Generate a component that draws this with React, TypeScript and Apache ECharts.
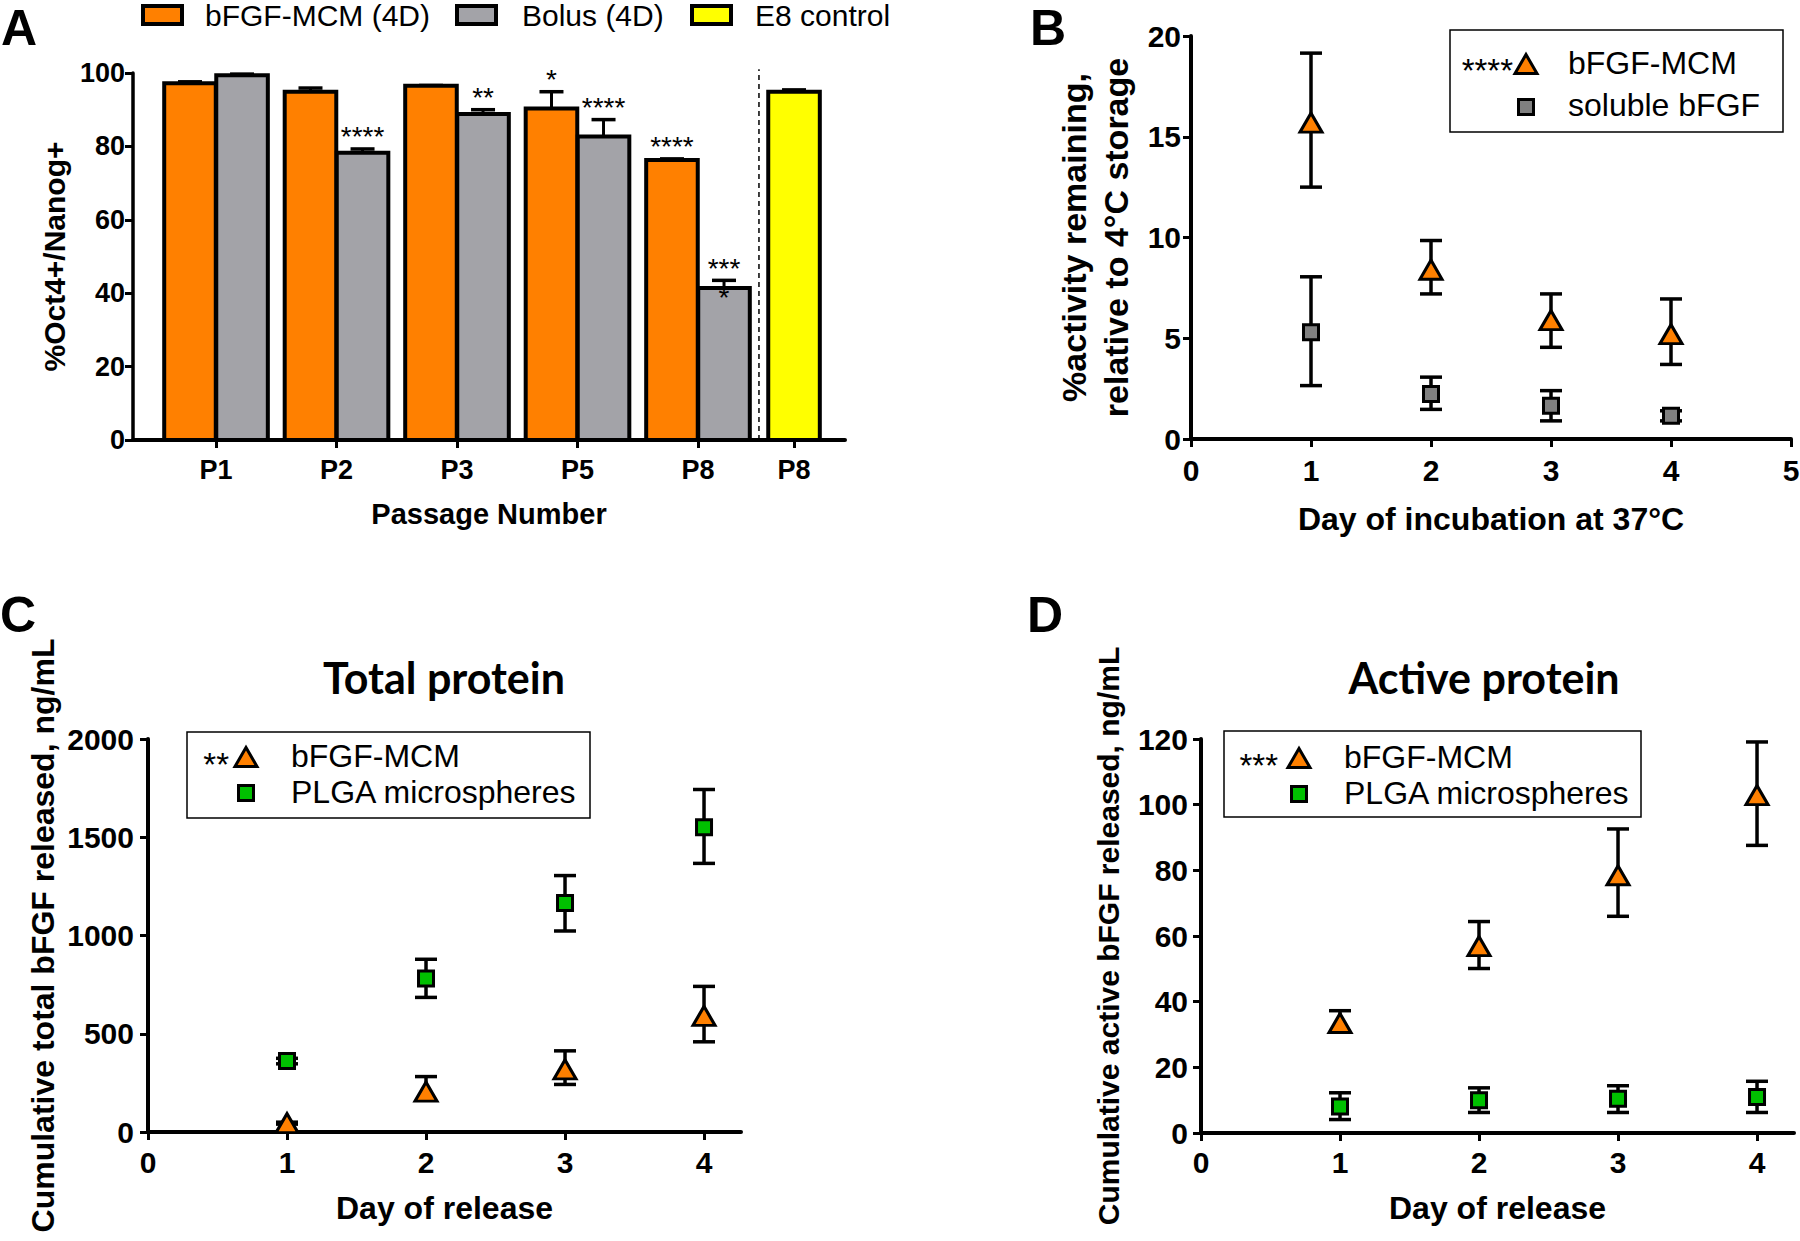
import React, { useEffect, useRef } from 'react';
import * as echarts from 'echarts';

// ---------------- DATA ----------------
// Panel A: % Oct4+/Nanog+ by passage
const passages = ['P1', 'P2', 'P3', 'P5', 'P8'];
const e8Label = 'P8';
const mcmBar = [97.2, 94.9, 96.5, 90.3, 76.3];
const mcmBarErr = [97.6, 95.9, 96.6, 94.9, 76.6];
const bolusBar = [99.4, 78.3, 88.8, 82.7, 41.4];
const bolusBarErr = [99.7, 79.3, 90.0, 87.3, 43.5];
const e8Bar = [94.9];
const e8BarErr = [95.4];
const mcmSig = ['', '', '', '*', '****'];
const bolusSig = ['', '****', '**', '****', '***'];
const bolusSigBelow = ['', '', '', '', '*'];

// Panel B: % activity remaining
const daysB = [1, 2, 3, 4];
const mcmActB = [15.7, 8.4, 5.9, 5.2];
const mcmActBHi = [19.15, 9.85, 7.2, 6.95];
const mcmActBLo = [12.5, 7.2, 4.55, 3.7];
const solActB = [5.3, 2.23, 1.65, 1.15];
const solActBHi = [8.05, 3.07, 2.4, 1.4];
const solActBLo = [2.65, 1.47, 0.9, 0.9];

// Panel C: cumulative total bFGF released
const daysC = [1, 2, 3, 4];
const mcmTotC = [45, 205, 319, 591];
const mcmTotCHi = [50, 282, 413, 741];
const mcmTotCLo = [40, 163, 242, 459];
const plgaTotC = [361, 781, 1165, 1551];
const plgaTotCHi = [375, 879, 1305, 1743];
const plgaTotCLo = [347, 685, 1023, 1367];

// Panel D: cumulative active bFGF released
const daysD = [1, 2, 3, 4];
const mcmActD = [33.5, 56.9, 78.5, 102.9];
const mcmActDHi = [37.25, 64.4, 92.6, 119.1];
const mcmActDLo = [31, 50.1, 66, 87.6];
const plgaActD = [8.1, 10, 10.4, 11];
const plgaActDHi = [12.25, 13.75, 14.4, 15.75];
const plgaActDLo = [4.1, 6.25, 6.25, 6.25];

const dayTicks = [0, 1, 2, 3, 4];

// ---------------- LAYOUT / STYLE ----------------
const groupX = [1, 2, 3, 4, 5];
const e8X = 5.797;
const dividerX = 5.506;
const BAR_HALF = 0.214;
const BAR_OFF = 0.216;

const FONT = '"Liberation Sans", Arial, Helvetica, sans-serif';
const TITLE_FONT = 'Lato, "Open Sans", "Liberation Sans", sans-serif';
const BLACK = '#000';
const ORANGE = '#FF8000';
const GRAY_BAR = '#A3A3A8';
const YELLOW = '#FFFF00';
const GREEN = '#00C000';
const GRAY_MK = '#808080';

function axisBase(gridIndex: number, labelSize: number, labelMargin: number, nameSize: number, nameGap: number, name: string, lineHeight?: number) {
  const nts: any = { color: BLACK, fontFamily: FONT, fontWeight: 'bold', fontSize: nameSize };
  if (lineHeight) nts.lineHeight = lineHeight;
  return {
    gridIndex,
    name,
    nameLocation: 'middle',
    nameGap,
    nameMoveOverlap: false,
    nameTextStyle: nts,
    axisLine: { show: true, onZero: false, lineStyle: { color: BLACK, width: 4 } },
    axisTick: { show: true, length: 8, lineStyle: { color: BLACK, width: 3 } },
    splitLine: { show: false },
    axisLabel: { color: BLACK, fontFamily: FONT, fontWeight: 'bold', fontSize: labelSize, margin: labelMargin, formatter: (v: number) => String(v) },
  };
}

const barRender = (offset: number, color: string, sig?: string[], sigBelow?: string[]) => (params: any, api: any) => {
  const i = params.dataIndex;
  const cx = api.value(0) + offset;
  const v = api.value(1);
  const e = api.value(2);
  const tl = api.coord([cx - BAR_HALF, v]);
  const br = api.coord([cx + BAR_HALF, 0]);
  const top = api.coord([cx, e]);
  const children: any[] = [
    { type: 'line', shape: { x1: top[0], y1: tl[1], x2: top[0], y2: top[1] }, style: { stroke: BLACK, lineWidth: 3 } },
    { type: 'line', shape: { x1: top[0] - 12, y1: top[1], x2: top[0] + 12, y2: top[1] }, style: { stroke: BLACK, lineWidth: 3.5 } },
    { type: 'rect', shape: { x: tl[0], y: tl[1], width: br[0] - tl[0], height: br[1] - tl[1] }, style: { fill: color, stroke: BLACK, lineWidth: 4 } },
  ];
  if (sig && sig[i]) {
    children.push({ type: 'text', x: top[0], y: top[1] - 12, style: { text: sig[i], fontFamily: FONT, fontSize: 28, fill: BLACK, align: 'center', verticalAlign: 'middle' } });
  }
  if (sigBelow && sigBelow[i]) {
    children.push({ type: 'text', x: top[0], y: tl[1] + 9, style: { text: sigBelow[i], fontFamily: FONT, fontSize: 28, fill: BLACK, align: 'center', verticalAlign: 'middle' } });
  }
  return { type: 'group', children };
};

const errRender = (params: any, api: any) => {
  const x = api.value(0);
  const lo = api.coord([x, api.value(1)]);
  const hi = api.coord([x, api.value(2)]);
  const c = 11;
  const st = { stroke: BLACK, lineWidth: 3.5 };
  return {
    type: 'group',
    children: [
      { type: 'line', shape: { x1: lo[0], y1: lo[1], x2: hi[0], y2: hi[1] }, style: st },
      { type: 'line', shape: { x1: hi[0] - c, y1: hi[1], x2: hi[0] + c, y2: hi[1] }, style: st },
      { type: 'line', shape: { x1: lo[0] - c, y1: lo[1], x2: lo[0] + c, y2: lo[1] }, style: st },
    ],
  };
};

function errSeries(name: string, axisIdx: number, xs: number[], lo: number[], hi: number[]) {
  return {
    type: 'custom',
    name,
    xAxisIndex: axisIdx,
    yAxisIndex: axisIdx,
    data: xs.map((x, i) => [x, lo[i], hi[i]]),
    encode: { x: 0, y: [1, 2] },
    renderItem: errRender,
    clip: false,
    z: 2,
    silent: true,
  };
}

function markerSeries(name: string, axisIdx: number, xs: number[], ys: number[], kind: 'tri' | 'sq', color: string) {
  return {
    type: 'scatter',
    name,
    xAxisIndex: axisIdx,
    yAxisIndex: axisIdx,
    data: xs.map((x, i) => [x, ys[i]]),
    symbol: kind === 'tri' ? 'triangle' : 'rect',
    symbolSize: kind === 'tri' ? [22, 19] : 15,
    itemStyle: { color, borderColor: BLACK, borderWidth: 3, opacity: 1 },
    clip: false,
    z: 3,
    silent: true,
  };
}

function txt(text: string, x: number, y: number, size: number, opts: any = {}) {
  return {
    type: 'text',
    x,
    y,
    style: {
      text,
      fontFamily: opts.family || FONT,
      fontSize: size,
      fontWeight: opts.weight || 'normal',
      fill: BLACK,
      align: opts.align || 'left',
      verticalAlign: 'middle',
    },
  };
}

function tri(cx: number, cy: number, color: string) {
  return {
    type: 'polygon',
    shape: { points: [[cx, cy - 9.5], [cx + 11, cy + 9.5], [cx - 11, cy + 9.5]] },
    style: { fill: color, stroke: BLACK, lineWidth: 3, lineJoin: 'miter' },
  };
}

function sq(cx: number, cy: number, color: string) {
  return {
    type: 'rect',
    shape: { x: cx - 7.5, y: cy - 7.5, width: 15, height: 15 },
    style: { fill: color, stroke: BLACK, lineWidth: 3 },
  };
}

function frame(x: number, y: number, w: number, h: number) {
  return { type: 'rect', shape: { x, y, width: w, height: h }, style: { fill: 'none', stroke: BLACK, lineWidth: 1.5 } };
}

function swatch(x: number, y: number, color: string) {
  return { type: 'rect', shape: { x, y, width: 39, height: 18 }, style: { fill: color, stroke: BLACK, lineWidth: 4 } };
}

function buildOption(): any {
  const labelOfA = (v: number) => {
    if (Math.abs(v - e8X) < 0.01) return e8Label;
    const idx = groupX.findIndex((g) => Math.abs(g - v) < 0.01);
    return idx >= 0 ? passages[idx] : '';
  };

  const xA: any = axisBase(0, 27, 16, 29, 59, 'Passage Number');
  Object.assign(xA, { type: 'value', min: 0.311, max: 6.22 });
  xA.axisTick = { ...xA.axisTick, customValues: [...groupX, e8X] };
  xA.axisLabel = { ...xA.axisLabel, customValues: [...groupX, e8X], formatter: labelOfA };
  const yA: any = axisBase(0, 27, 8, 30, 64, '%Oct4+/Nanog+');
  Object.assign(yA, { type: 'value', min: 0, max: 100, interval: 20 });
  yA.axisLine.lineStyle.width = 3.5;

  const xB: any = axisBase(1, 30, 16, 32, 64, 'Day of incubation at 37°C');
  Object.assign(xB, { type: 'value', min: 0, max: 5, interval: 1 });
  const yB: any = axisBase(1, 30, 10, 34, 54, '%activity remaining,\nrelative to 4°C storage', 42);
  Object.assign(yB, { type: 'value', min: 0, max: 20, interval: 5 });

  const xC: any = axisBase(2, 30, 15, 32, 60, 'Day of release');
  Object.assign(xC, { type: 'value', min: 0, max: 4.266 });
  xC.axisTick = { ...xC.axisTick, customValues: dayTicks };
  xC.axisLabel = { ...xC.axisLabel, customValues: dayTicks };
  const yC: any = axisBase(2, 30, 14, 32, 89, 'Cumulative total bFGF released, ng/mL');
  Object.assign(yC, { type: 'value', min: 0, max: 2000, interval: 500 });

  const xD: any = axisBase(3, 30, 14, 32, 59, 'Day of release');
  Object.assign(xD, { type: 'value', min: 0, max: 4.266 });
  xD.axisTick = { ...xD.axisTick, customValues: dayTicks };
  xD.axisLabel = { ...xD.axisLabel, customValues: dayTicks };
  const yD: any = axisBase(3, 30, 13, 30, 78, 'Cumulative active bFGF released, ng/mL');
  Object.assign(yD, { type: 'value', min: 0, max: 120, interval: 20 });

  const grids = [
    { left: 133, top: 73, width: 712, height: 367 },
    { left: 1191, top: 36, width: 600, height: 403 },
    { left: 148, top: 739, width: 593, height: 393 },
    { left: 1201, top: 739, width: 593, height: 394 },
  ].map((g) => ({ ...g, outerBoundsMode: 'none', containLabel: false, show: false }));

  const series: any[] = [
    {
      type: 'custom', name: 'bFGF-MCM (4D)', xAxisIndex: 0, yAxisIndex: 0,
      data: groupX.map((x, i) => [x, mcmBar[i], mcmBarErr[i]]),
      encode: { x: 0, y: 1 }, renderItem: barRender(-BAR_OFF, ORANGE, mcmSig), clip: false, silent: true,
    },
    {
      type: 'custom', name: 'Bolus (4D)', xAxisIndex: 0, yAxisIndex: 0,
      data: groupX.map((x, i) => [x, bolusBar[i], bolusBarErr[i]]),
      encode: { x: 0, y: 1 }, renderItem: barRender(BAR_OFF, GRAY_BAR, bolusSig, bolusSigBelow), clip: false, silent: true,
    },
    {
      type: 'custom', name: 'E8 control', xAxisIndex: 0, yAxisIndex: 0,
      data: e8Bar.map((v, i) => [e8X, v, e8BarErr[i]]),
      encode: { x: 0, y: 1 }, renderItem: barRender(0, YELLOW), clip: false, silent: true,
    },
    {
      type: 'line', name: 'divider', xAxisIndex: 0, yAxisIndex: 0,
      data: [[dividerX, 0], [dividerX, 101]], symbol: 'none', clip: false, silent: true,
      lineStyle: { color: BLACK, width: 1.5, type: [5, 4] },
    },
    errSeries('bFGF-MCM err B', 1, daysB, mcmActBLo, mcmActBHi),
    errSeries('soluble bFGF err B', 1, daysB, solActBLo, solActBHi),
    markerSeries('soluble bFGF', 1, daysB, solActB, 'sq', GRAY_MK),
    markerSeries('bFGF-MCM B', 1, daysB, mcmActB, 'tri', ORANGE),

    errSeries('bFGF-MCM err C', 2, daysC, mcmTotCLo, mcmTotCHi),
    errSeries('PLGA err C', 2, daysC, plgaTotCLo, plgaTotCHi),
    markerSeries('PLGA microspheres C', 2, daysC, plgaTotC, 'sq', GREEN),
    markerSeries('bFGF-MCM C', 2, daysC, mcmTotC, 'tri', ORANGE),

    errSeries('bFGF-MCM err D', 3, daysD, mcmActDLo, mcmActDHi),
    errSeries('PLGA err D', 3, daysD, plgaActDLo, plgaActDHi),
    markerSeries('PLGA microspheres D', 3, daysD, plgaActD, 'sq', GREEN),
    markerSeries('bFGF-MCM D', 3, daysD, mcmActD, 'tri', ORANGE),
  ];

  const graphic: any[] = [
    // panel letters
    txt('A', 1, 28, 50, { weight: 'bold' }),
    txt('B', 1030, 28, 50, { weight: 'bold' }),
    txt('C', 0, 615, 50, { weight: 'bold' }),
    txt('D', 1027, 615, 50, { weight: 'bold' }),
    // legend A
    swatch(143, 6, ORANGE), txt('bFGF-MCM (4D)', 205, 15, 30),
    swatch(457, 6, GRAY_BAR), txt('Bolus (4D)', 522, 15, 30),
    swatch(692, 6, YELLOW), txt('E8 control', 755, 15, 30),
    // legend B
    frame(1450, 30, 333, 102),
    txt('****', 1513, 70, 33, { align: 'right' }), tri(1526, 64, ORANGE), txt('bFGF-MCM', 1568, 63, 32),
    sq(1526, 107, GRAY_MK), txt('soluble bFGF', 1568, 105, 32),
    // legend C
    frame(187, 732, 403, 86),
    txt('**', 229, 764, 33, { align: 'right' }), tri(246, 757, ORANGE), txt('bFGF-MCM', 291, 756, 32),
    sq(246, 793, GREEN), txt('PLGA microspheres', 291, 792, 32),
    // legend D
    frame(1224, 731, 417, 86),
    txt('***', 1278, 765, 33, { align: 'right' }), tri(1299, 758, ORANGE), txt('bFGF-MCM', 1344, 757, 32),
    sq(1299, 794, GREEN), txt('PLGA microspheres', 1344, 793, 32),
  ];

  const titleStyle = { color: BLACK, fontFamily: TITLE_FONT, fontWeight: 'bold', fontSize: 43 };

  return {
    animation: false,
    backgroundColor: '#fff',
    title: [
      { text: 'Total protein', left: 444, top: 656, textAlign: 'center', padding: 0, textStyle: titleStyle },
      { text: 'Active protein', left: 1484, top: 656, textAlign: 'center', padding: 0, textStyle: titleStyle },
    ],
    grid: grids,
    xAxis: [xA, xB, xC, xD],
    yAxis: [yA, yB, yC, yD],
    series,
    graphic,
  };
}

export default function App() {
  const ref = useRef<HTMLDivElement>(null);
  useEffect(() => {
    document.body.style.margin = '0';
    const chart = echarts.init(ref.current as HTMLDivElement, null, { renderer: 'svg' });
    chart.setOption(buildOption());
    return () => chart.dispose();
  }, []);
  return <div ref={ref} style={{ width: 1800, height: 1241 }} />;
}
